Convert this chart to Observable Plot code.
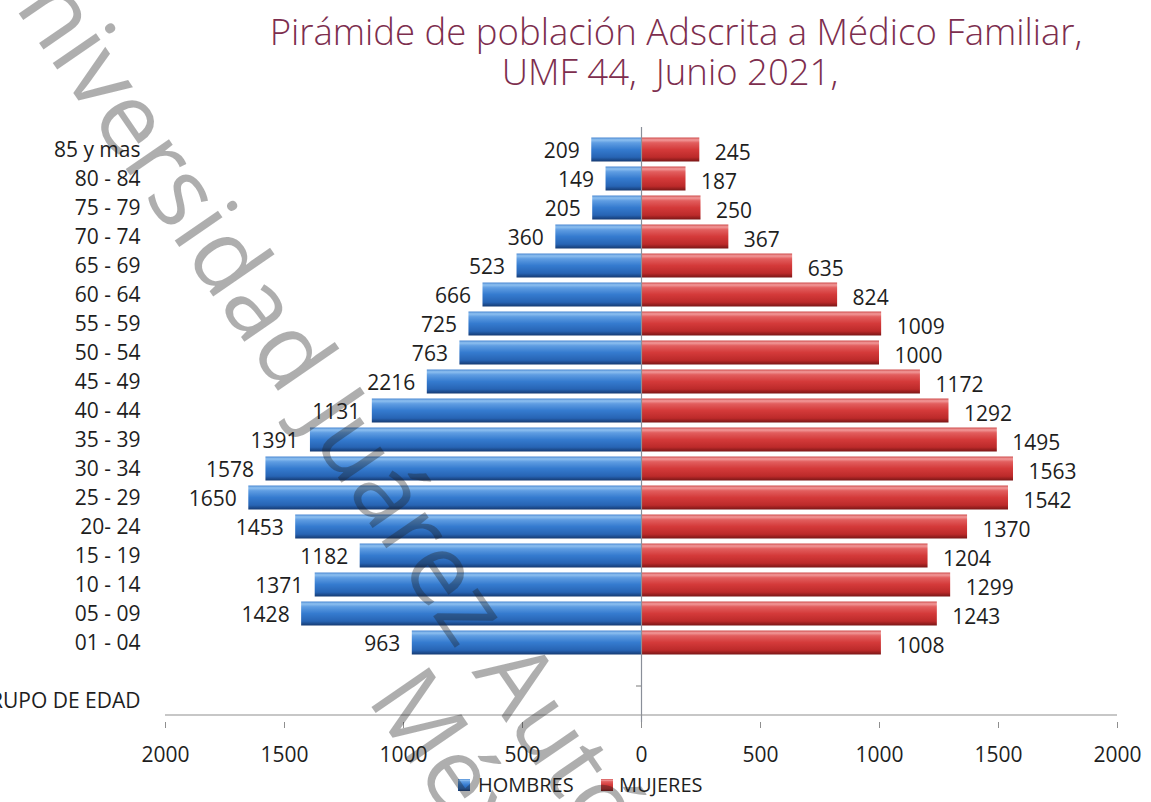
<!DOCTYPE html>
<html><head><meta charset="utf-8">
<script src="https://cdn.jsdelivr.net/npm/d3@7"></script>
<script src="https://cdn.jsdelivr.net/npm/@observablehq/plot@0.6"></script>
<style>
html,body{margin:0;padding:0;background:#fff;overflow:hidden;}
#wrap{position:relative;width:1151px;height:802px;}
#wrap > svg{position:absolute;left:0;top:0;}
</style></head><body><div id="wrap"></div>
<script>
const grupos = ["85 y mas","80 - 84","75 - 79","70 - 74","65 - 69","60 - 64","55 - 59","50 - 54","45 - 49","40 - 44","35 - 39","30 - 34","25 - 29","20- 24","15 - 19","10 - 14","05 - 09","01 - 04"];
const hombres = [209,149,205,360,523,666,725,763,900,1131,1391,1578,1650,1453,1182,1371,1428,963];
const hombresEtiquetas = ["209","149","205","360","523","666","725","763","2216","1131","1391","1578","1650","1453","1182","1371","1428","963"];
const mujeres = [245,187,250,367,635,824,1009,1000,1172,1292,1495,1563,1542,1370,1204,1299,1243,1008];
const filaVacia = " ";
const tituloEje = "GRUPO DE EDAD";
const xTicks = [-2000,-1500,-1000,-500,0,500,1000,1500,2000];
const titulo = ["Pirámide de población Adscrita a Médico Familiar,", "UMF 44,  Junio 2021,"];
const leyenda = ["HOMBRES","MUJERES"];
const marcaAgua = ["Universidad Juárez Autónoma de Tabasco", "México"];

const rows = grupos.map((g,i)=>({g, h: hombres[i], hl: hombresEtiquetas[i], m: mujeres[i]}));

const plot = Plot.plot({
  width:1151, height:802, marginLeft:165, marginRight:34, marginTop:127, marginBottom:80,
  style:{fontFamily:"'Open Sans', sans-serif", fontSize:"21px", color:"#1e1e1e", background:"transparent"},
  x:{domain:[-2000,2000], label:null},
  y:{domain:[...grupos, filaVacia, tituloEje], padding:0, label:null},
  marks:[
    Plot.barX(rows, {y:"g", x1:0, x2:d=>-d.h, fill:"url(#gradH)", insetTop:2.5, insetBottom:2.5}),
    Plot.barX(rows, {y:"g", x1:0, x2:"m", fill:"url(#gradM)", insetTop:2.5, insetBottom:2.5}),
    Plot.ruleX([0], {stroke:"#8a8f99", strokeWidth:1.2}),
    Plot.text(rows, {y:"g", x:d=>-d.h, text:"hl", textAnchor:"end", dx:-12, dy:1}),
    Plot.text(rows, {y:"g", x:"m", text:d=>String(d.m), textAnchor:"start", dx:15, dy:3}),
    Plot.axisX({ticks:xTicks, tickFormat:d=>String(Math.abs(d)), tickSize:6, tickPadding:19, stroke:"#8f8f8f"}),
    Plot.axisY({tickSize:0, tickPadding:25})
  ]
});
document.getElementById("wrap").appendChild(plot);

const svg = d3.select(plot);
const defs = svg.append("defs");
function grad(id, stops){
  const g = defs.append("linearGradient").attr("id", id).attr("x1",0).attr("y1",0).attr("x2",0).attr("y2",1);
  stops.forEach(([o,c])=>g.append("stop").attr("offset",o).attr("stop-color",c));
}
grad("gradH", [[0,"#4a88d2"],[0.1,"#8ec0f0"],[0.22,"#5f9de2"],[0.5,"#357bcf"],[0.82,"#2764b4"],[1,"#153a72"]]);
grad("gradM", [[0,"#cf4d4d"],[0.1,"#f29a9a"],[0.22,"#e25e5e"],[0.5,"#d43a3a"],[0.82,"#bc2a2a"],[1,"#7a1616"]]);

// axis lines from the plot's own scales
const xs = plot.scale("x"), ys = plot.scale("y");
const yBottom = ys.apply(tituloEje) + ys.bandwidth;
svg.append("line").attr("x1", xs.apply(-2000)).attr("x2", xs.apply(2000)).attr("y1", yBottom).attr("y2", yBottom)
  .attr("stroke","#8f8f8f").attr("stroke-width",1.2);
svg.append("line").attr("x1", xs.apply(0)-5).attr("x2", xs.apply(0)).attr("y1", ys.apply(tituloEje)).attr("y2", ys.apply(tituloEje))
  .attr("stroke","#8f8f8f").attr("stroke-width",1.2);

// overlay: title, legend, watermark
const ov = d3.select("#wrap").append("svg").attr("width",1151).attr("height",802).style("pointer-events","none");
const tStyle = sel => sel.attr("text-anchor","middle").attr("font-family","'Open Sans', sans-serif").attr("font-weight",300)
  .attr("font-size",36.5).attr("fill","#7d2e4e").style("white-space","pre");
ov.append("text").attr("x",676).attr("y",45).call(tStyle).text(titulo[0]);
ov.append("text").attr("x",670).attr("y",85).call(tStyle).text(titulo[1]);

const lg = ov.append("g").attr("font-family","'Open Sans', sans-serif").attr("font-size",20).attr("fill","#1e1e1e");
lg.append("rect").attr("x",458).attr("y",779).attr("width",12).attr("height",12).attr("fill","url(#gradH)");
lg.append("text").attr("x",478).attr("y",792).text(leyenda[0]);
lg.append("rect").attr("x",601).attr("y",779).attr("width",12).attr("height",12).attr("fill","url(#gradM)");
lg.append("text").attr("x",619).attr("y",792).text(leyenda[1]);

const wm = ov.append("g").attr("transform","translate(48,56) rotate(55.5)").attr("fill","rgba(30,30,30,0.36)")
  .attr("font-family","'Open Sans', sans-serif").attr("font-weight",400).attr("font-size",98);
const tmp = wm.append("text").text("Un"); const wUn = tmp.node().getComputedTextLength(); tmp.remove();
wm.append("text").attr("x",-wUn).attr("y",0).text(marcaAgua[0]);
wm.append("text").attr("x",710).attr("y",102).text(marcaAgua[1]);
</script></body></html>
